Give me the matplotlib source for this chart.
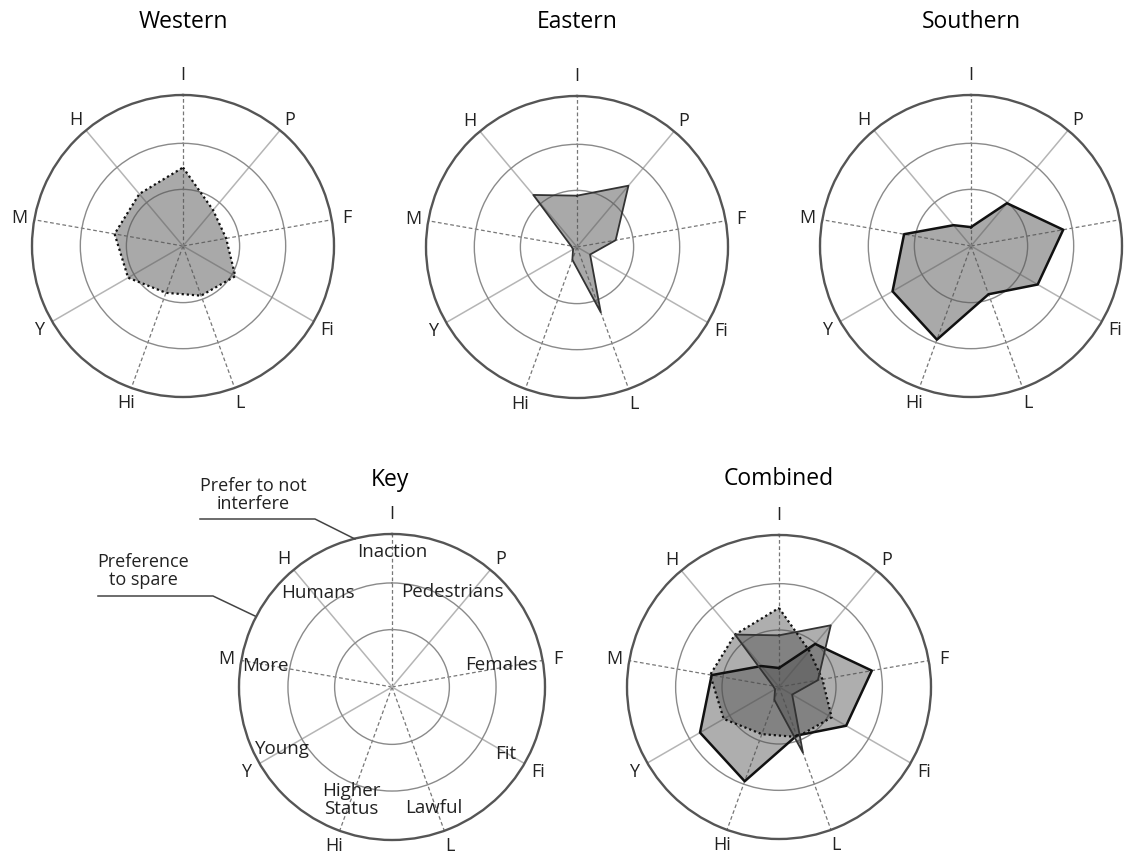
import numpy as np
import matplotlib.pyplot as plt
from matplotlib.lines import Line2D

plt.rcParams['font.family'] = ['Open Sans', 'DejaVu Sans']
plt.rcParams['font.size'] = 12

W, H = 1127, 854

# axes (clockwise from the top)
axis_labels = ['I', 'P', 'F', 'Fi', 'L', 'Hi', 'Y', 'M', 'H']
spoke_dashed = [True, False, True, False, True, True, False, True, False]

# preference scores (outer ring = 1)
western = [0.52, 0.31, 0.29, 0.40, 0.35, 0.33, 0.42, 0.46, 0.45]
eastern = [0.34, 0.53, 0.26, 0.10, 0.46, 0.09, 0.03, 0.04, 0.45]
southern = [0.125, 0.37, 0.62, 0.51, 0.34, 0.66, 0.60, 0.45, 0.18]

ring_levels = [0.375, 0.68]

key_words = ['Inaction', 'Pedestrians', 'Females', 'Fit', 'Lawful',
             'Higher\nStatus', 'Young', 'More', 'Humans']
key_pos = [(0, 0.89), (32, 0.74), (78, 0.73), (120, 0.86), (161, 0.83),
           (200, 0.78), (241, 0.82), (280, 0.84), (322, 0.79)]

theta = np.deg2rad(np.arange(len(axis_labels)) * 360 / len(axis_labels))

styles = {
    'Western': dict(ls=(0, (1, 1.3)), lw=1.6, color='#111111'),
    'Eastern': dict(ls='-', lw=1.3, color='#333333'),
    'Southern': dict(ls='-', lw=1.8, color='#111111'),
}


def make_radar(cx, cy, r):
    ax = fig.add_axes([(cx - r) / W, (H - cy - r) / H, 2 * r / W, 2 * r / H],
                      projection='polar')
    ax.set_theta_zero_location('N')
    ax.set_theta_direction(-1)
    ax.set_ylim(0, 1)
    ax.set_xticks([])
    ax.set_yticks(ring_levels)
    ax.set_yticklabels([])
    ax.xaxis.grid(False)
    ax.yaxis.grid(True, color='#8a8a8a', lw=1.0, ls='-')
    ax.spines['polar'].set_color('#555555')
    ax.spines['polar'].set_linewidth(1.7)
    ax.set_facecolor('none')
    for t, d in zip(theta, spoke_dashed):
        if d:
            ax.plot([t, t], [0, 1], color='#777777', lw=0.9, ls=(0, (3, 2)), zorder=1)
        else:
            ax.plot([t, t], [0, 1], color='#b5b5b5', lw=1.1, ls='-', zorder=1)
    for t, lab in zip(theta, axis_labels):
        rr = 1.14 if lab == 'I' else 1.1
        ax.text(t, rr, lab, ha='center', va='center', fontsize=13,
                color='#222222', clip_on=False)
    return ax


def draw_shape(ax, vals, name, fc, alpha):
    t = np.append(theta, theta[0])
    v = np.append(vals, vals[0])
    ax.fill(t, v, color=fc, alpha=alpha, lw=0, zorder=2)
    ax.plot(t, v, zorder=3, **styles[name])


fig = plt.figure(figsize=(W / 100, H / 100), dpi=100)

centers = {'Western': (183, 247), 'Eastern': (577, 248), 'Southern': (971, 247)}
data = {'Western': western, 'Eastern': eastern, 'Southern': southern}

for name, (cx, cy) in centers.items():
    ax = make_radar(cx, cy, 151)
    draw_shape(ax, data[name], name, '#555555', 0.5)
    fig.text(cx / W, 1 - 22 / H, name, ha='center', va='center', fontsize=16.5)

# combined panel
ax = make_radar(779, 688, 152)
for name in ['Western', 'Southern', 'Eastern']:
    draw_shape(ax, data[name], name, '#4d4d4d', 0.45)
fig.text(779 / W, 1 - 479 / H, 'Combined', ha='center', va='center', fontsize=16.5)

# key panel
ax = make_radar(392, 688, 153)
for (deg, rr), word in zip(key_pos, key_words):
    ax.text(np.deg2rad(deg), rr, word, ha='center', va='center', fontsize=13.5,
            color='#222222', linespacing=1.05)
fig.text(390 / W, 1 - 480 / H, 'Key', ha='center', va='center', fontsize=16.5)

fig.text(253 / W, 1 - 495 / H, 'Prefer to not\ninterfere', ha='center', va='center',
         fontsize=13, linespacing=1.05, color='#222222')
fig.text(143 / W, 1 - 571 / H, 'Preference\nto spare', ha='center', va='center',
         fontsize=13, linespacing=1.05, color='#222222')


def leader(xs, ys):
    fig.add_artist(Line2D(np.array(xs) / W, 1 - np.array(ys) / H,
                          transform=fig.transFigure, color='#444444', lw=1.1))


leader([200, 315, 355], [520, 520, 540])
leader([98, 213, 255], [597, 597, 617])

fig.savefig('out.png', dpi=100, facecolor='white')
